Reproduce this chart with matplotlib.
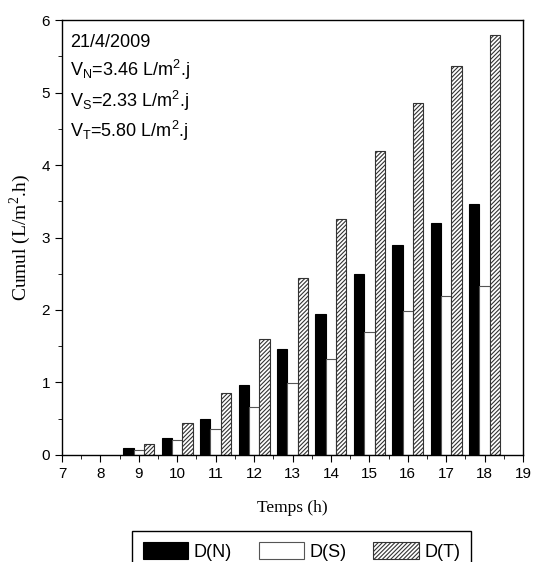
import numpy as np
import matplotlib
matplotlib.use('Agg')
import matplotlib.pyplot as plt
from matplotlib.ticker import MultipleLocator

plt.rcParams['font.family'] = ['Liberation Sans', 'DejaVu Sans']
plt.rcParams['hatch.linewidth'] = 0.8

hours = [9, 10, 11, 12, 13, 14, 15, 16, 17, 18]
d_n = [0.09, 0.24, 0.50, 0.96, 1.46, 1.94, 2.50, 2.89, 3.20, 3.46]
d_s = [0.07, 0.20, 0.36, 0.66, 0.99, 1.33, 1.70, 1.98, 2.19, 2.33]
d_t = [0.15, 0.44, 0.85, 1.60, 2.44, 3.26, 4.19, 4.85, 5.37, 5.80]

info = ['21/4/2009',
        r'V$_\mathregular{N}$=3.46 L/m$^\mathregular{2}$.j',
        r'V$_\mathregular{S}$=2.33 L/m$^\mathregular{2}$.j',
        r'V$_\mathregular{T}$=5.80 L/m$^\mathregular{2}$.j']
info_y = [0.938, 0.871, 0.800, 0.731]

fig = plt.figure(figsize=(5.35, 5.62), dpi=100)
ax = fig.add_axes([0.1159, 0.1904, 0.8617, 0.774])

x = np.array(hours, dtype=float)
w = 0.27
ax.bar(x - w, d_n, w, color='black', edgecolor='black', linewidth=0.8, label='D(N)')
ax.bar(x, d_s, w, color='white', edgecolor='#555555', linewidth=0.8, label='D(S)')
ax.bar(x + w, d_t, w, color='white', edgecolor='#333333', hatch='////////', linewidth=0.8, label='D(T)')

ax.set_xlim(7, 19)
ax.set_ylim(0, 6)
ax.xaxis.set_major_locator(MultipleLocator(1))
ax.xaxis.set_minor_locator(MultipleLocator(0.5))
ax.yaxis.set_major_locator(MultipleLocator(1))
ax.yaxis.set_minor_locator(MultipleLocator(0.5))
ax.tick_params(which='both', direction='out', labelsize=11)
ax.tick_params(which='major', length=5)
ax.tick_params(which='minor', length=3)
for s in ax.spines.values():
    s.set_linewidth(1.0)

ax.set_xlabel('Temps (h)', family='Liberation Serif', fontsize=12.5, labelpad=14)
ax.set_ylabel(r'Cumul (L/m$^\mathregular{2}$.h)', family='Liberation Serif', fontsize=14, labelpad=6)

for t, yy in zip(info, info_y):
    ax.text(0.017, yy, t, transform=ax.transAxes, fontsize=13, va='baseline', ha='left')

leg = fig.legend(loc='upper left', bbox_to_anchor=(0.2467, 0.0552), ncol=3,
                 borderaxespad=0, fancybox=False, edgecolor='black', framealpha=1,
                 handlelength=2.5, handleheight=1.1, handletextpad=0.3,
                 columnspacing=1.5, borderpad=0.6, fontsize=13)
leg.get_frame().set_linewidth(1.0)

fig.savefig('out.png', dpi=100)
